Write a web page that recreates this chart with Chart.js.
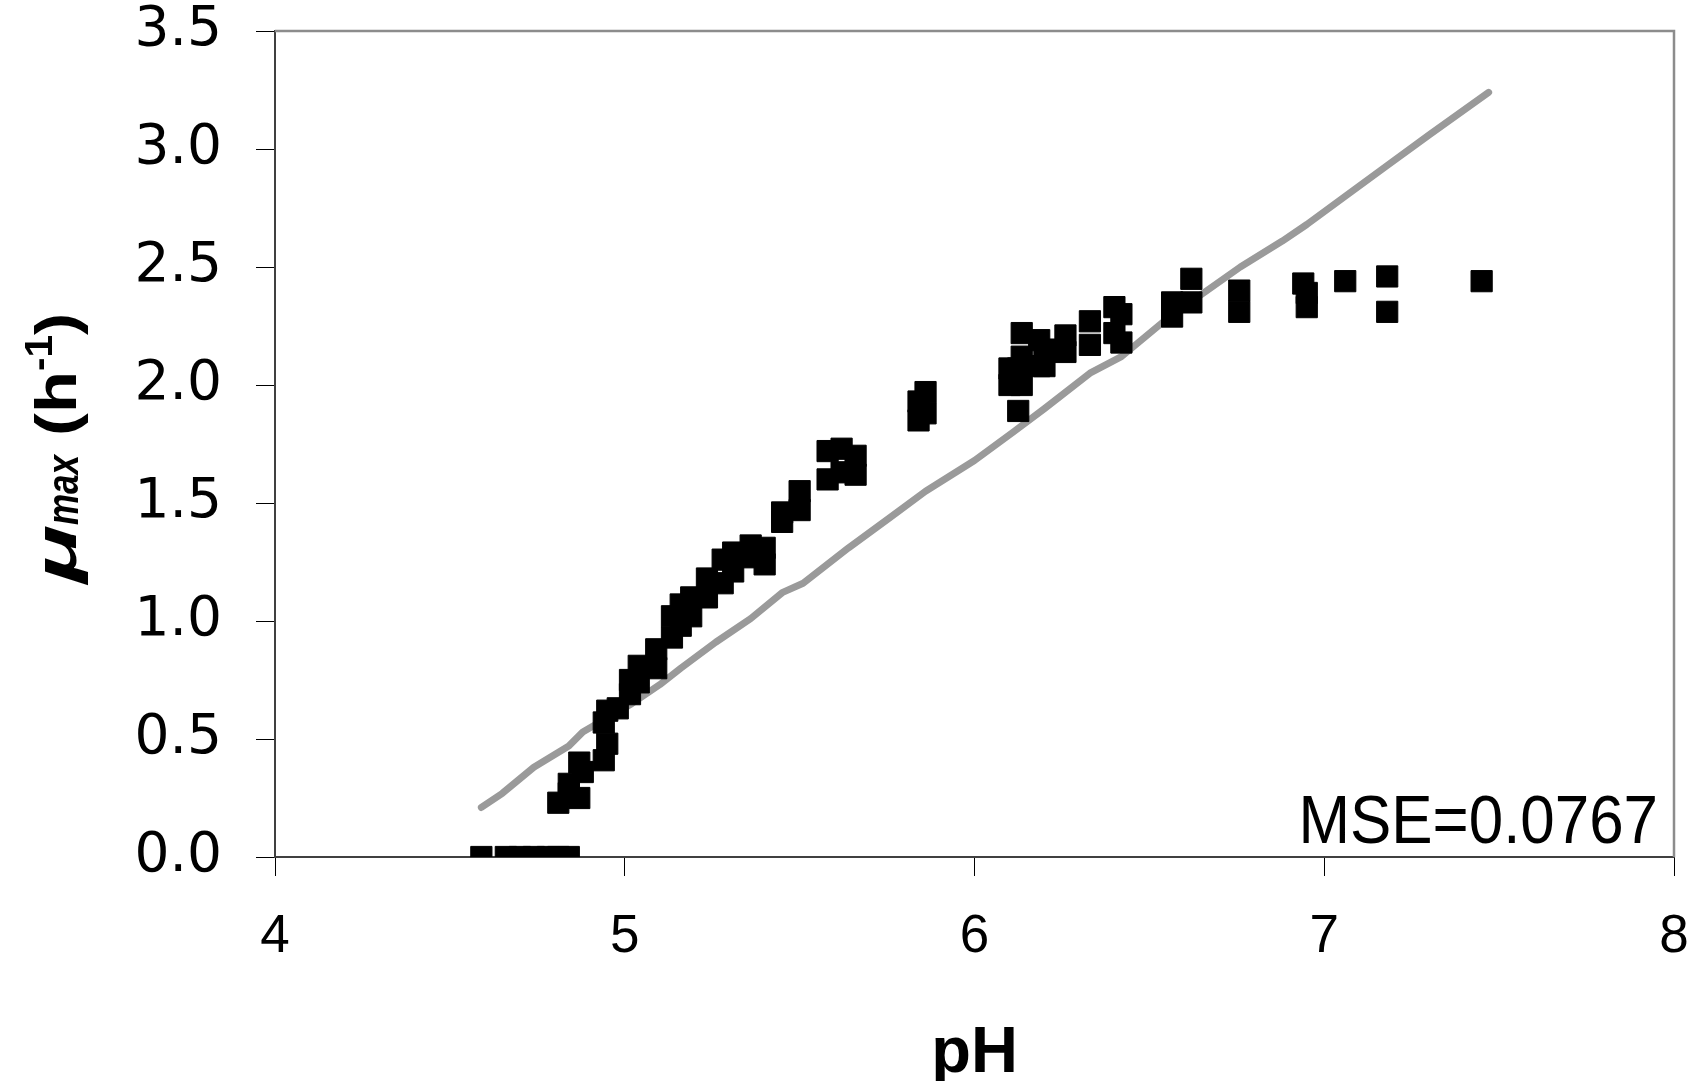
<!DOCTYPE html>
<html>
<head>
<meta charset="utf-8">
<script src="https://cdn.jsdelivr.net/npm/chart.js@4.4.1/dist/chart.umd.min.js"></script>
<style>
  html, body { margin: 0; padding: 0; background: #fff; }
  #wrap { width: 1697px; height: 1081px; }
</style>
</head>
<body>
<div id="wrap"><canvas id="chart"></canvas></div>
<script>
// observed mu_max values (black squares)
var obsPH = [4.59, 4.66, 4.70, 4.74, 4.78, 4.81, 4.84,
  4.81, 4.84, 4.84, 4.87, 4.87, 4.88, 4.94, 4.94, 4.95, 4.95, 4.98,
  5.015, 5.015, 5.04, 5.04, 5.09, 5.09, 5.135, 5.135, 5.16, 5.16, 5.19, 5.19,
  5.235, 5.235, 5.28, 5.28, 5.31, 5.31, 5.36, 5.36, 5.40, 5.40, 5.45, 5.45,
  5.50, 5.50, 5.58, 5.58, 5.62, 5.62, 5.66, 5.66, 5.84, 5.84, 5.86, 5.86,
  6.10, 6.10, 6.125, 6.125, 6.135, 6.135, 6.135, 6.185, 6.185, 6.20, 6.20,
  6.26, 6.26, 6.33, 6.33, 6.40, 6.40, 6.42, 6.42, 6.565, 6.565, 6.62, 6.62,
  6.757, 6.757, 6.94, 6.95, 6.95, 7.06, 7.18, 7.18, 7.45];
var obsMu = [0, 0, 0, 0, 0, 0, 0,
  0.23, 0.31, 0.27, 0.40, 0.25, 0.36, 0.57, 0.41, 0.48, 0.62, 0.63,
  0.75, 0.69, 0.81, 0.74, 0.88, 0.80, 1.02, 0.93, 1.07, 0.98, 1.10, 1.02,
  1.18, 1.10, 1.26, 1.16, 1.29, 1.21, 1.32, 1.27, 1.31, 1.24, 1.46, 1.42,
  1.55, 1.47, 1.72, 1.60, 1.73, 1.63, 1.70, 1.62, 1.93, 1.85, 1.97, 1.88,
  2.07, 2.00, 2.07, 1.89, 2.22, 2.12, 2.00, 2.19, 2.08, 2.15, 2.08,
  2.21, 2.14, 2.27, 2.17, 2.33, 2.22, 2.30, 2.18, 2.35, 2.29, 2.45, 2.35,
  2.40, 2.31, 2.43, 2.39, 2.33, 2.44, 2.46, 2.31, 2.44];

// model prediction (grey line)
var fitPH = [4.59, 4.65, 4.74, 4.84, 4.88, 4.95, 5.02, 5.10, 5.16, 5.26, 5.36, 5.45,
  5.51, 5.64, 5.76, 5.86, 6.00, 6.11, 6.20, 6.33, 6.42, 6.55, 6.76, 6.88,
  6.95, 7.06, 7.18, 7.30, 7.47];
var fitMu = [0.21, 0.27, 0.38, 0.47, 0.53, 0.59, 0.65, 0.73, 0.80, 0.91, 1.01, 1.12,
  1.16, 1.31, 1.44, 1.55, 1.68, 1.80, 1.90, 2.05, 2.12, 2.28, 2.50, 2.61,
  2.68, 2.80, 2.93, 3.06, 3.24];

var mseLabel = "MSE=0.0767";

function pairs(xs, ys) {
  return xs.map(function (x, i) { return { x: x, y: ys[i] }; });
}

// frame, MSE label and the rich y axis title
var extras = {
  id: "extras",
  afterDraw: function (chart) {
    var ctx = chart.ctx, a = chart.chartArea;
    ctx.save();
    ctx.strokeStyle = "#8c8c8c";
    ctx.lineWidth = 2.5;
    ctx.beginPath();
    ctx.moveTo(a.left, a.top);
    ctx.lineTo(a.right, a.top);
    ctx.lineTo(a.right, a.bottom);
    ctx.stroke();

    // MSE text, condensed
    ctx.fillStyle = "#000";
    ctx.font = "68px 'Liberation Sans'";
    ctx.textBaseline = "alphabetic";
    ctx.textAlign = "right";
    ctx.translate(a.right - 16, a.bottom - 14);
    ctx.scale(0.91, 1);
    ctx.fillText(mseLabel, 0, 0);
    ctx.restore();

    // y title: mu_max (h^-1)
    ctx.save();
    ctx.fillStyle = "#000";
    ctx.textBaseline = "alphabetic";
    ctx.textAlign = "left";
    ctx.translate(76, 583);
    ctx.rotate(-Math.PI / 2);
    var segs = [
      { t: "\u03bc", f: "italic bold 60px 'Liberation Sans'", len: 58, dy: 0 },
      { t: "max", f: "italic bold 44px 'Liberation Sans'", len: 70, dy: 2 },
      { t: " (h", f: "bold 58px 'Liberation Sans'", len: 84, dy: 0 },
      { t: "-1", f: "bold 38px 'Liberation Sans'", len: 36, dy: -24 },
      { t: ")", f: "bold 58px 'Liberation Sans'", len: 22, dy: 0 }
    ];
    var cx = 0;
    segs.forEach(function (s) {
      ctx.font = s.f;
      var w = ctx.measureText(s.t).width;
      var sx = s.len / w;
      ctx.save();
      ctx.translate(cx, s.dy);
      ctx.scale(sx, 1);
      ctx.fillText(s.t, 0, 0);
      ctx.restore();
      cx += s.len;
    });
    ctx.restore();
  }
};

var chart = new Chart(document.getElementById("chart"), {
  type: "scatter",
  data: {
    datasets: [
      {
        label: "observed",
        data: pairs(obsPH, obsMu),
        pointStyle: "rect",
        pointRadius: 15,
        pointHoverRadius: 15,
        backgroundColor: "#000",
        borderColor: "#000",
        borderWidth: 1
      },
      {
        label: "model",
        data: pairs(fitPH, fitMu),
        showLine: true,
        pointRadius: 0,
        borderColor: "#9a9a9a",
        borderWidth: 7,
        borderCapStyle: "round",
        borderJoinStyle: "round",
        tension: 0
      }
    ]
  },
  options: {
    responsive: true,
    maintainAspectRatio: false,
    animation: false,
    events: [],
    layout: { padding: { left: 0, top: 31, right: 23, bottom: 0 } },
    plugins: {
      legend: { display: false },
      tooltip: { enabled: false }
    },
    scales: {
      x: {
        type: "linear",
        min: 4,
        max: 8,
        ticks: {
          stepSize: 1,
          color: "#000",
          padding: 30,
          font: { family: "'Liberation Sans Narrow', 'Liberation Sans'", size: 53 }
        },
        grid: { drawOnChartArea: false, drawTicks: true, tickLength: 19, color: "#000", tickWidth: 1 },
        border: { color: "#404040", width: 2 },
        title: {
          display: true,
          text: "pH",
          color: "#000",
          padding: { top: 0, bottom: -6 },
          font: { family: "'Liberation Sans'", size: 65, weight: "bold", lineHeight: 1 }
        },
        afterFit: function (s) {
          s.height = 224;
          s.paddingLeft = 0;
          s.paddingRight = 0;
        }
      },
      y: {
        type: "linear",
        min: 0,
        max: 3.5,
        ticks: {
          stepSize: 0.5,
          color: "#000",
          padding: 34,
          font: { family: "'DejaVu Sans'", size: 55 },
          callback: function (v) { return v.toFixed(1); }
        },
        grid: { drawOnChartArea: false, drawTicks: true, tickLength: 19, color: "#000", tickWidth: 1 },
        border: { color: "#404040", width: 2 },
        afterFit: function (s) {
          s.width = 275;
          s.paddingTop = 0;
          s.paddingBottom = 0;
        }
      }
    }
  },
  plugins: [extras]
});
</script>
</body>
</html>
